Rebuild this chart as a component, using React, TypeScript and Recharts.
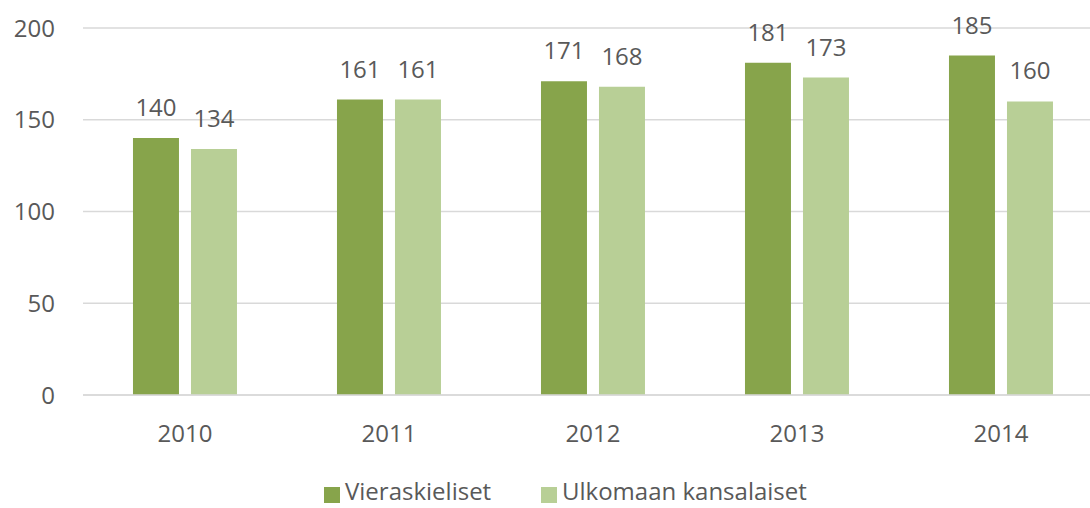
import React from "react";
import { BarChart, Bar, XAxis, YAxis, CartesianGrid, LabelList } from "recharts";

const years = ["2010", "2011", "2012", "2013", "2014"];
const vieraskieliset = [140, 161, 171, 181, 185];
const ulkomaanKansalaiset = [134, 161, 168, 173, 160];
const yTicks = [0, 50, 100, 150, 200];

const data = years.map((y, i) => ({
  year: y,
  vieraskieliset: vieraskieliset[i],
  ulkomaan: ulkomaanKansalaiset[i],
}));

const DARK = "#87A44B";
const LIGHT = "#B8CF96";
const TEXT = "#595959";
const FONT = "'Open Sans', 'Noto Sans', sans-serif";

const legendItems = [
  { label: "Vieraskieliset", color: DARK, left: 324 },
  { label: "Ulkomaan kansalaiset", color: LIGHT, left: 541 },
];

const LegendBox = () => (
  <svg
    width={1090}
    height={48}
    style={{ position: "absolute", left: 0, top: 460 }}
  >
    {legendItems.map((it) => (
      <g key={it.label}>
        <rect x={it.left} y={27} width={16} height={16} fill={it.color} />
        <text
          x={it.left + 21}
          y={40}
          fill={TEXT}
          fontSize={24}
          fontFamily={FONT}
        >
          {it.label}
        </text>
      </g>
    ))}
  </svg>
);

export default function App() {
  return (
    <div style={{ position: "absolute", left: 0, top: 0, width: 1090, height: 508, overflow: "hidden", background: "#fff" }}>
      <BarChart
        width={1103}
        height={508}
        data={data}
        margin={{ top: 28, right: 0, left: 0, bottom: 0 }}
        barCategoryGap="24.5%"
        barGap={12}
      >
        <CartesianGrid vertical={false} stroke="#D9D9D9" strokeWidth={1.5} />
        <XAxis
          dataKey="year"
          tickLine={false}
          axisLine={{ stroke: "#D9D9D9", strokeWidth: 1.5 }}
          tickSize={0}
          tickMargin={30}
          tick={{ fill: TEXT, fontSize: 24, fontFamily: FONT }}
          height={113}
        />
        <YAxis
          domain={[0, 200]}
          ticks={yTicks}
          width={83}
          tickLine={false}
          axisLine={false}
          tickSize={0}
          tickMargin={28}
          tick={{ fill: TEXT, fontSize: 24, fontFamily: FONT }}
        />
        <Bar dataKey="vieraskieliset" fill={DARK} isAnimationActive={false}>
          <LabelList dataKey="vieraskieliset" position="top" offset={22} fill={TEXT} fontSize={24} fontFamily={FONT} />
        </Bar>
        <Bar dataKey="ulkomaan" fill={LIGHT} isAnimationActive={false}>
          <LabelList dataKey="ulkomaan" position="top" offset={22} fill={TEXT} fontSize={24} fontFamily={FONT} />
        </Bar>
      </BarChart>
      <LegendBox />
    </div>
  );
}
